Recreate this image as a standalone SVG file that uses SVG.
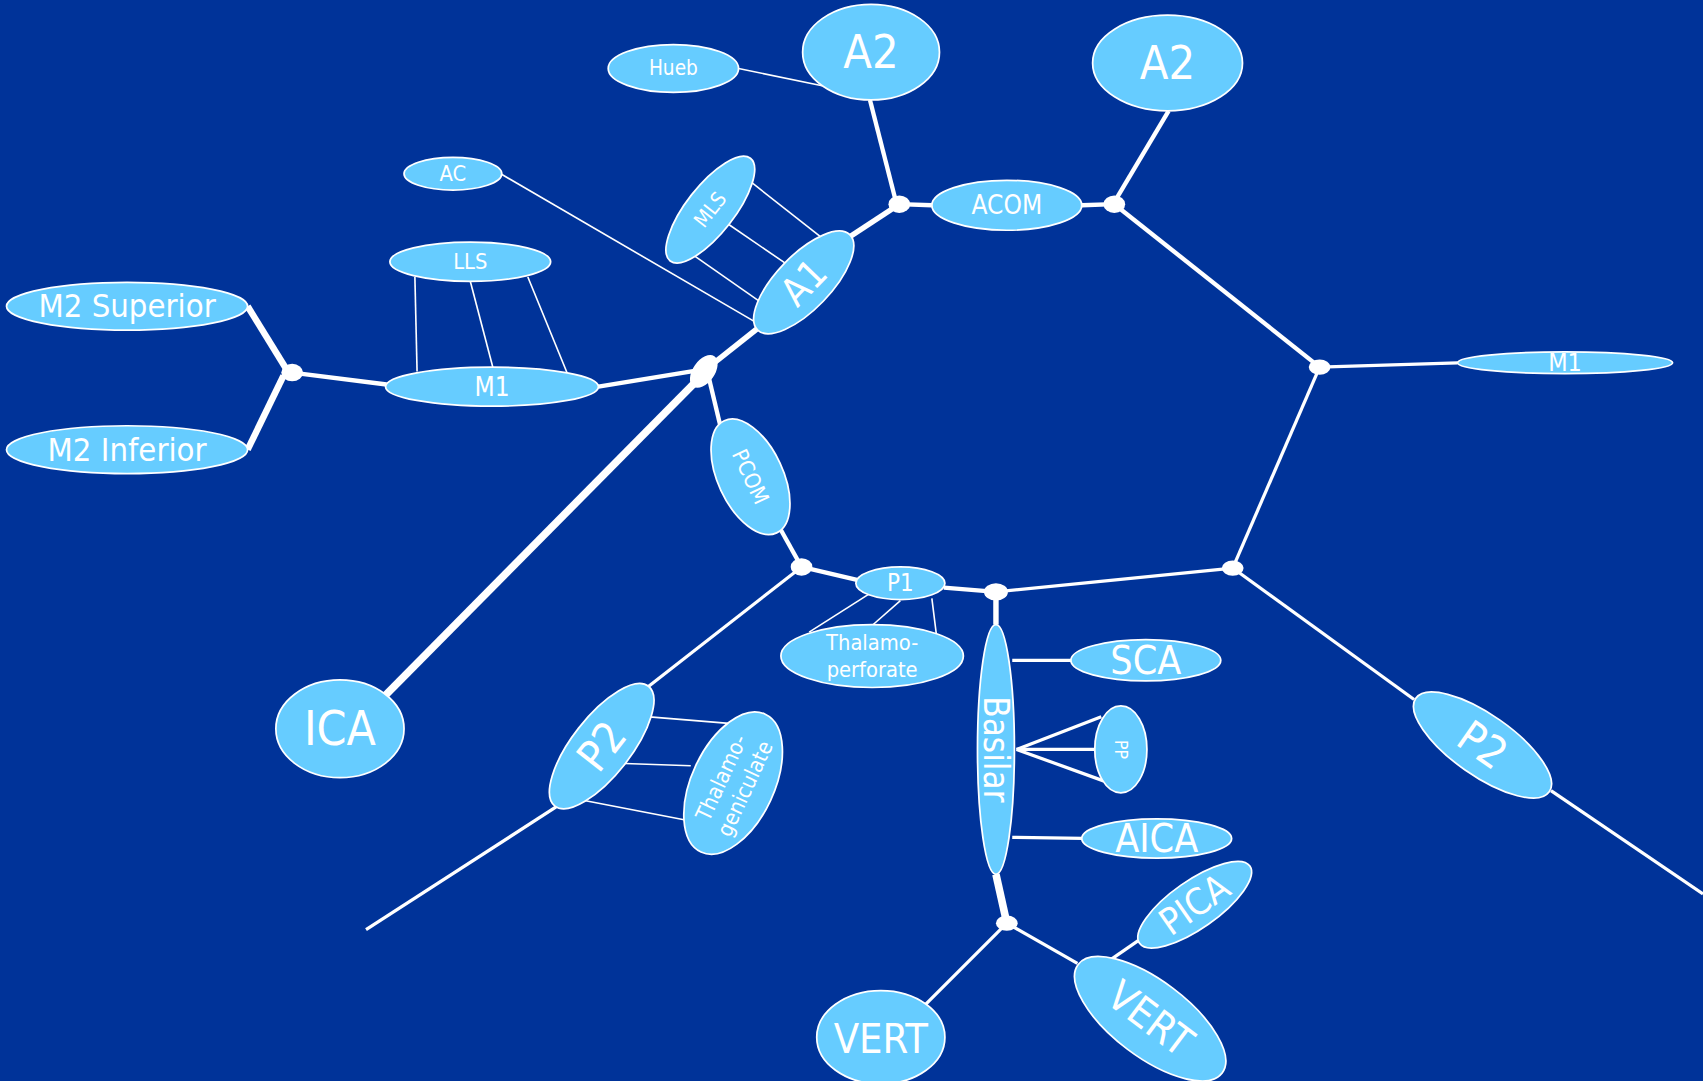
<svg xmlns="http://www.w3.org/2000/svg" width="1703" height="1081" viewBox="0 0 1703 1081">
  <style>
    .bg { fill: #003399; }
    .node { fill: #66CCFF; stroke: #FFFFFF; stroke-width: 1.6; }
    .dot { fill: #FFFFFF; }
    .lbl { fill: #FFFFFF; font-family: "DejaVu Sans Condensed", "DejaVu Sans", sans-serif; text-anchor: middle; dominant-baseline: central; }
    .v { stroke: #FFFFFF; fill: none; stroke-linecap: butt; }
    .w3 { stroke-width: 3; }
    .w4 { stroke-width: 4; }
    .w5 { stroke-width: 5; }
    .w6 { stroke-width: 6; }
    .w7 { stroke-width: 7; }
    .thin { stroke-width: 1.5; }
  </style>
  <rect class="bg" x="0" y="0" width="1703" height="1081"/>
  <!-- layout drawn on a 1568x995 grid, scaled up to the page -->
  <g transform="scale(1.08610)">
    <g id="connectors">
      <!-- anterior circulation -->
      <line class="v w4" x1="801" y1="92" x2="825" y2="186"/>
      <line class="v w4" x1="828" y1="188" x2="858" y2="189"/>
      <line class="v w4" x1="996" y1="189" x2="1026" y2="188"/>
      <line class="v w4" x1="1076" y1="102" x2="1026" y2="186"/>
      <line class="v w5" x1="828" y1="188" x2="781" y2="219"/>
      <line class="v w5" x1="698" y1="302" x2="650" y2="340"/>
      <line class="v w7" x1="648" y1="344" x2="355" y2="640"/>
      <line class="v w4" x1="648" y1="340" x2="551" y2="356"/>
      <line class="v w4" x1="356" y1="354" x2="269" y2="343"/>
      <line class="v w6" x1="228" y1="282" x2="265" y2="342"/>
      <line class="v w6" x1="228" y1="414" x2="261" y2="346"/>
      <!-- posterior communicating and P1 -->
      <line class="v w4" x1="652" y1="345" x2="663" y2="391"/>
      <line class="v w4" x1="719" y1="488" x2="738" y2="522"/>
      <line class="v w4" x1="738" y1="522" x2="789" y2="534"/>
      <line class="v w4" x1="869" y1="541" x2="917" y2="545"/>
      <line class="v w3" x1="917" y1="545" x2="1135" y2="523"/>
      <!-- right side loop -->
      <line class="v w4" x1="1026" y1="188" x2="1215" y2="338"/>
      <line class="v w3" x1="1215" y1="338" x2="1342" y2="334"/>
      <line class="v w3" x1="1215" y1="338" x2="1135" y2="523"/>
      <line class="v w3" x1="1135" y1="523" x2="1302" y2="644"/>
      <line class="v w3" x1="1428" y1="728" x2="1568" y2="823"/>
      <!-- left P2 -->
      <line class="v w3" x1="738" y1="522" x2="597" y2="632"/>
      <line class="v w3" x1="512" y1="743" x2="337" y2="856"/>
      <!-- basilar and vertebrals -->
      <line class="v w5" x1="917" y1="545" x2="917" y2="575"/>
      <line class="v w7" x1="917" y1="805" x2="927" y2="850"/>
      <line class="v w3" x1="927" y1="850" x2="852" y2="925"/>
      <line class="v w3" x1="927" y1="850" x2="992" y2="887"/>
      <line class="v w3" x1="1022" y1="884" x2="1048" y2="866"/>
      <line class="v w3" x1="932" y1="608" x2="987" y2="608"/>
      <line class="v w3" x1="932" y1="771" x2="997" y2="772"/>
      <line class="v w3" x1="936" y1="690" x2="1014" y2="660"/>
      <line class="v w3" x1="936" y1="690" x2="1008" y2="690"/>
      <line class="v w3" x1="936" y1="690" x2="1016" y2="719"/>
      <!-- thin perforator links -->
      <line class="v thin" x1="680" y1="63" x2="757" y2="79"/>
      <line class="v thin" x1="461" y1="160" x2="698" y2="298"/>
      <line class="v thin" x1="692" y1="168" x2="758" y2="220"/>
      <line class="v thin" x1="670" y1="206" x2="724" y2="243"/>
      <line class="v thin" x1="640" y1="236" x2="700" y2="278"/>
      <line class="v thin" x1="382" y1="255" x2="384" y2="342"/>
      <line class="v thin" x1="433" y1="259" x2="454" y2="339"/>
      <line class="v thin" x1="486" y1="255" x2="522" y2="343"/>
      <line class="v thin" x1="800" y1="547" x2="745" y2="582"/>
      <line class="v thin" x1="829" y1="553" x2="804" y2="575"/>
      <line class="v thin" x1="858" y1="551" x2="862" y2="583"/>
      <line class="v thin" x1="598" y1="660" x2="671" y2="666"/>
      <line class="v thin" x1="575" y1="703" x2="636" y2="705"/>
      <line class="v thin" x1="538" y1="737" x2="631" y2="755"/>
    </g>

    <!-- junction points -->
    <g id="junctions">
      <ellipse class="dot" cx="828" cy="188" rx="10" ry="8"/>
      <ellipse class="dot" cx="1026" cy="188" rx="10" ry="8"/>
      <ellipse class="dot" cx="1215" cy="338" rx="10" ry="7"/>
      <ellipse class="dot" cx="1135" cy="523" rx="10" ry="7"/>
      <ellipse class="dot" cx="917" cy="545" rx="11" ry="8"/>
      <ellipse class="dot" cx="738" cy="522" rx="10" ry="8"/>
      <ellipse class="dot" cx="269" cy="343" rx="10" ry="8"/>
      <ellipse class="dot" cx="927" cy="850" rx="10" ry="7"/>
      <ellipse class="dot" cx="0" cy="0" rx="17" ry="10" transform="translate(648 342) rotate(-55)"/>
    </g>

    <g id="hueb"><ellipse class="node" cx="620" cy="63" rx="60" ry="22"/><text class="lbl" x="620" y="63" font-size="19">Hueb</text></g>
    <g id="a2-left"><ellipse class="node" cx="802" cy="48" rx="63" ry="44"/><text class="lbl" x="802" y="48" font-size="43">A2</text></g>
    <g id="a2-right"><ellipse class="node" cx="1075" cy="58" rx="69" ry="44"/><text class="lbl" x="1075" y="58" font-size="43">A2</text></g>
    <g id="ac"><ellipse class="node" cx="417" cy="160" rx="45" ry="15"/><text class="lbl" x="417" y="160" font-size="20">AC</text></g>
    <g id="mls" transform="translate(654 193) rotate(-52)"><ellipse class="node" cx="0" cy="0" rx="60" ry="22"/><text class="lbl" x="0" y="0" font-size="19">MLS</text></g>
    <g id="a1" transform="translate(740 260) rotate(-46)"><ellipse class="node" cx="0" cy="0" rx="61" ry="25"/><text class="lbl" x="0" y="0" font-size="36">A1</text></g>
    <g id="acom"><ellipse class="node" cx="927" cy="189" rx="69" ry="23"/><text class="lbl" x="927" y="189" font-size="24">ACOM</text></g>
    <g id="lls"><ellipse class="node" cx="433" cy="241" rx="74" ry="18"/><text class="lbl" x="433" y="241" font-size="20">LLS</text></g>
    <g id="m2-superior"><ellipse class="node" cx="117" cy="282" rx="111" ry="22"/><text class="lbl" x="117" y="282" font-size="30">M2 Superior</text></g>
    <g id="m2-inferior"><ellipse class="node" cx="117" cy="414" rx="111" ry="22"/><text class="lbl" x="117" y="414" font-size="30">M2 Inferior</text></g>
    <g id="m1-left"><ellipse class="node" cx="453" cy="356" rx="98" ry="18"/><text class="lbl" x="453" y="356" font-size="24">M1</text></g>
    <g id="m1-right"><ellipse class="node" cx="1441" cy="334" rx="99" ry="10"/><text class="lbl" x="1441" y="334" font-size="23">M1</text></g>
    <g id="pcom" transform="translate(691 439) rotate(65)"><ellipse class="node" cx="0" cy="0" rx="57" ry="30"/><text class="lbl" x="0" y="0" font-size="20">PCOM</text></g>
    <g id="p1"><ellipse class="node" cx="829" cy="537" rx="41" ry="15"/><text class="lbl" x="829" y="537" font-size="22">P1</text></g>
    <g id="thalamoperforate"><ellipse class="node" cx="803" cy="604" rx="84" ry="29"/><text class="lbl" x="803" y="592" font-size="20">Thalamo-</text><text class="lbl" x="803" y="616" font-size="20">perforate</text></g>
    <g id="basilar"><ellipse class="node" cx="917" cy="690" rx="17" ry="115"/><text class="lbl" x="0" y="0" font-size="32" transform="translate(917 690) rotate(90)">Basilar</text></g>
    <g id="sca"><ellipse class="node" cx="1055" cy="608" rx="69" ry="19"/><text class="lbl" x="1055" y="608" font-size="36">SCA</text></g>
    <g id="pp"><ellipse class="node" cx="1032" cy="690" rx="24" ry="40"/><text class="lbl" x="0" y="0" font-size="16" transform="translate(1032 690) rotate(90)">PP</text></g>
    <g id="aica"><ellipse class="node" cx="1065" cy="772" rx="69" ry="18"/><text class="lbl" x="1065" y="772" font-size="36">AICA</text></g>
    <g id="pica" transform="translate(1100 833) rotate(-35)"><ellipse class="node" cx="0" cy="0" rx="62" ry="22"/><text class="lbl" x="0" y="0" font-size="34">PICA</text></g>
    <g id="vert-right" transform="translate(1059 938) rotate(37)"><ellipse class="node" cx="0" cy="0" rx="83" ry="35"/><text class="lbl" x="0" y="0" font-size="38">VERT</text></g>
    <g id="vert-left"><ellipse class="node" cx="811" cy="955" rx="59" ry="43"/><text class="lbl" x="811" y="957" font-size="38">VERT</text></g>
    <g id="ica"><ellipse class="node" cx="313" cy="671" rx="59" ry="45"/><text class="lbl" x="313" y="671" font-size="44">ICA</text></g>
    <g id="p2-left" transform="translate(554 687) rotate(-52)"><ellipse class="node" cx="0" cy="0" rx="70" ry="27"/><text class="lbl" x="0" y="0" font-size="40">P2</text></g>
    <g id="thalamogeniculate" transform="translate(675 721) rotate(-65)"><ellipse class="node" cx="0" cy="0" rx="70" ry="38"/><text class="lbl" x="0" y="-12" font-size="20">Thalamo-</text><text class="lbl" x="0" y="12" font-size="20">geniculate</text></g>
    <g id="p2-right" transform="translate(1365 686) rotate(35)"><ellipse class="node" cx="0" cy="0" rx="75" ry="28"/><text class="lbl" x="0" y="0" font-size="40">P2</text></g>
  </g>
</svg>
